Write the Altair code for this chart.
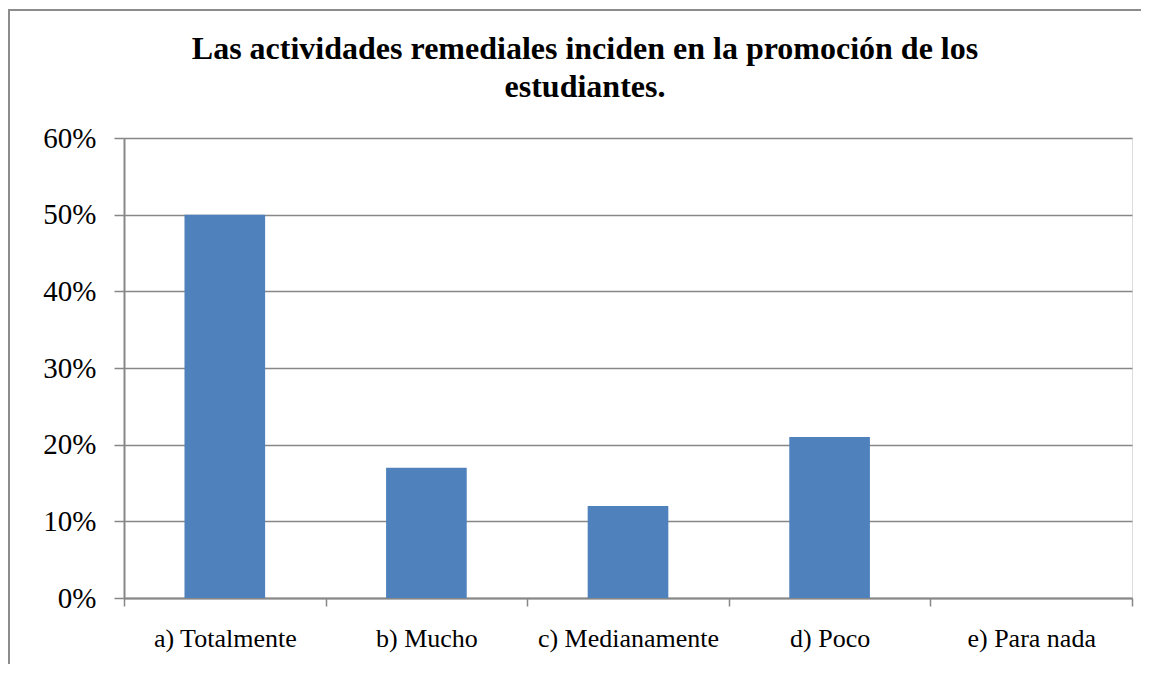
import altair as alt
import pandas as pd

categories = ["a) Totalmente", "b) Mucho", "c) Medianamente", "d) Poco", "e) Para nada"]
values = [0.50, 0.17, 0.12, 0.21, 0.0]
y_ticks = [0.0, 0.1, 0.2, 0.3, 0.4, 0.5, 0.6]
title_lines = ["Las actividades remediales inciden en la promoción de los", "estudiantes."]

df = pd.DataFrame({"cat": categories, "val": values})
one_df = pd.DataFrame({"k": [0]})

FONT = "Liberation Serif"
GRAY = "#878787"

bars = alt.Chart(df).mark_bar(color="#4F81BD", width=alt.RelativeBandSize(0.4)).encode(
    x=alt.X(
        "cat:N",
        sort=categories,
        title=None,
        scale=alt.Scale(paddingInner=0, paddingOuter=0),
        axis=alt.Axis(
            labelAngle=0,
            tickBand="extent",
            tickSize=8,
            tickColor=GRAY,
            tickWidth=1.5,
            domainColor=GRAY,
            domainWidth=2,
            labelFont=FONT,
            labelFontSize=26,
            labelColor="black",
            labelPadding=19,
            labelLimit=0,
            grid=False,
        ),
    ),
    y=alt.Y(
        "val:Q",
        title=None,
        scale=alt.Scale(domain=[0, 0.6], nice=False),
        axis=alt.Axis(
            format=".0%",
            values=y_ticks,
            tickSize=10,
            tickColor=GRAY,
            tickWidth=1.5,
            domainColor=GRAY,
            domainWidth=2,
            grid=True,
            gridColor=GRAY,
            gridWidth=1.5,
            labelFont=FONT,
            labelFontSize=29,
            labelColor="black",
            labelPadding=18,
        ),
    ),
)

frame_top = alt.Chart(one_df).mark_rule(color="#8c8c8c", strokeWidth=2).encode(
    x=alt.value(-116), x2=alt.value(1017), y=alt.value(-128)
)
frame_left = alt.Chart(one_df).mark_rule(color="#8c8c8c", strokeWidth=2).encode(
    x=alt.value(-115), y=alt.value(-129), y2=alt.value(540)
)

title = alt.Chart(one_df).mark_text(
    text="\n".join(title_lines),
    lineBreak="\n",
    font=FONT,
    fontSize=32,
    fontWeight="bold",
    color="black",
    align="center",
    baseline="alphabetic",
    lineHeight=38,
).encode(x=alt.value(461), y=alt.value(-79))

chart = (
    alt.layer(frame_top, frame_left, title, bars)
    .properties(
        width=1008,
        height=460,
        padding={"left": 116, "top": 130, "right": 9, "bottom": 66},
        autosize=alt.AutoSizeParams(type="none"),
    )
    .configure_view(stroke=None)
    .configure(background="white")
)

chart.save("out.html", embed_options={"renderer": "svg", "actions": False})
